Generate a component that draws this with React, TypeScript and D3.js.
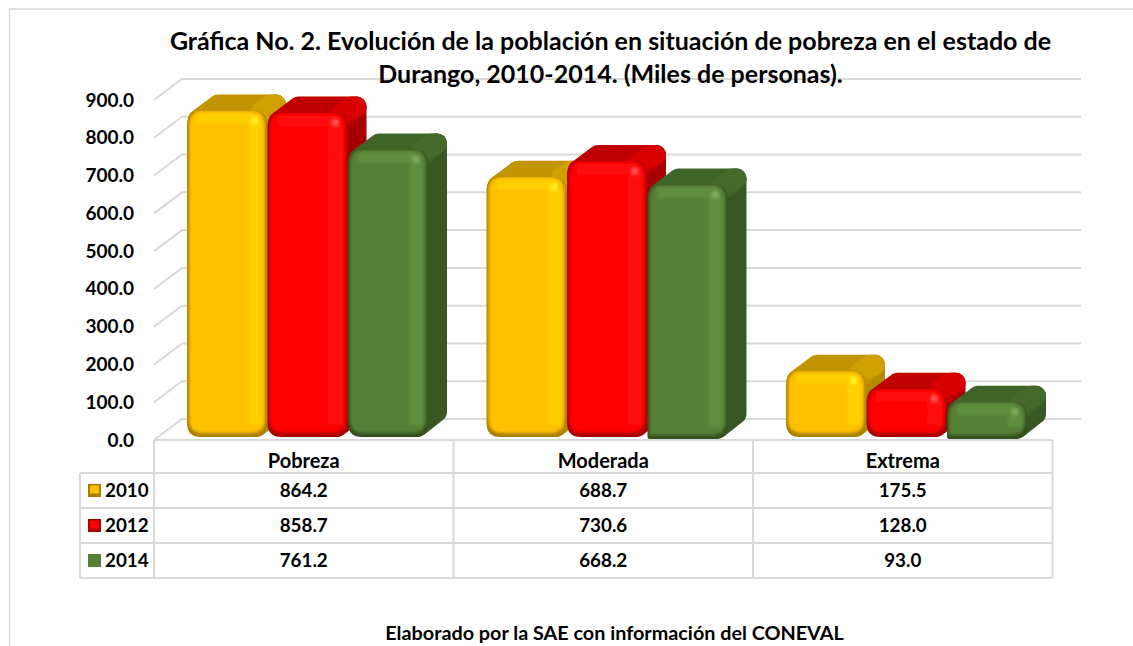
import React from "react";
import * as d3 from "d3";

const categories = ["Pobreza", "Moderada", "Extrema"];
const years = ["2010", "2012", "2014"];
const values2010 = [864.2, 688.7, 175.5];
const values2012 = [858.7, 730.6, 128.0];
const values2014 = [761.2, 668.2, 93.0];
const seriesValues = [values2010, values2012, values2014];
const yTicks = [0, 100, 200, 300, 400, 500, 600, 700, 800, 900];
const titleLines = [
  "Gráfica No. 2. Evolución de la población en situación de pobreza en el estado de",
  "Durango, 2010-2014. (Miles de personas).",
];
const footer = "Elaborado por la SAE con información del CONEVAL";
const palette = [
  { base: "#FFC000", light: "#FFCF00", spec: "#FFF020", edge: "#A88000", top: "#C29400", topLight: "#D0A000", side: "#B48A00" },
  { base: "#FF0000", light: "#FF1010", spec: "#FF5050", edge: "#A80000", top: "#C00000", topLight: "#D80000", side: "#A80000" },
  { base: "#568035", light: "#5E8F3C", spec: "#7DAA5C", edge: "#33501F", top: "#3F6428", topLight: "#44692B", side: "#385723" },
];

const FONT = "Lato, 'Open Sans', sans-serif";
const GRID = "#D9D9D9";
const DX = 28;
const DY = 21;
const y = d3.scaleLinear().domain([0, 900]).range([440, 100]);
const x = d3.scaleBand().domain(categories).range([154, 1052.5]);
const barWidth = 80.5;
const barInset = 33;
const tableYs = [440, 473, 508, 543, 578];

function Bar({ cat, si, value }: { cat: string; si: number; value: number }) {
  const c = palette[si];
  const x0 = (x(cat) as number) + barInset + si * barWidth;
  const x1 = x0 + barWidth - 0.5;
  const yTop = y(value) - 3;
  const yBot = y(0) - 3;
  const r = 14;
  const dx = 19;
  const dy = 16;
  const s = 10;
  // flat-bottom for the green bars of the 2nd and 3rd groups, as in the source
  const flat = si === 2 && cat !== categories[0];
  const bottom = flat ? yBot + 2 : yBot;
  const a = yTop - dy + s;
  const topPts = `${x0 + 11},${yTop + 9} ${x0 + 31},${a} ${x1 + dx - s},${a} ${x1 - s},${yTop + s}`;
  const sidePts = `${x1 - s},${yTop + s} ${x1 + dx - s},${a} ${x1 + dx - s},${Math.max(bottom - dy - 9, a)} ${x1 - s},${bottom - s}`;
  const wedgePts = `${x1 - 6},${a + 7} ${x1 + 4},${a} ${x1 + dx - s},${a}`;
  const lr = flat ? 2 : r;
  const facePath = `M${x0},${bottom - lr}V${yTop + r}Q${x0},${yTop} ${x0 + r},${yTop}H${x1 - r}Q${x1},${yTop} ${x1},${yTop + r}V${bottom - r}Q${x1},${bottom} ${x1 - r},${bottom}H${x0 + lr}Q${x0},${bottom} ${x0},${bottom - lr}Z`;
  return (
    <g>
      <polygon points={sidePts} fill={c.side} stroke={c.side} strokeWidth={s * 2} strokeLinejoin="round" />
      <polygon points={topPts} fill={c.top} stroke={c.top} strokeWidth={s * 2} strokeLinejoin="round" />
      <polygon points={wedgePts} fill={c.topLight} stroke={c.topLight} strokeWidth={s * 2} strokeLinejoin="round" />
      <path d={facePath} fill={c.edge} />
      <path d={facePath} fill={c.base} filter="url(#bevel)" />
      <rect x={x1 - 19} y={yTop + 12} width={14} height={Math.max(bottom - yTop - 24, 1)} fill={c.light} filter="url(#soft)" />
      <rect x={x0 + 10} y={yTop + 3} width={barWidth - 22} height={10} fill={c.light} filter="url(#soft)" />
      <circle cx={x1 - 12} cy={yTop + 10} r={4} fill={c.spec} filter="url(#soft)" />
    </g>
  );
}

export default function App() {
  return (
    <svg
      width={1133}
      height={646}
      style={{ position: "absolute", left: 0, top: 0, background: "#fff" }}
      fontFamily={FONT}
      fontWeight={700}
    >
      <defs>
        <filter id="bevel" x="-10%" y="-10%" width="120%" height="120%">
          <feOffset dy="-2" />
          <feMorphology operator="erode" radius="2" />
          <feGaussianBlur stdDeviation="1.8" />
          <feComposite in2="SourceGraphic" operator="in" />
        </filter>
        <filter id="soft" x="-40%" y="-40%" width="180%" height="180%">
          <feGaussianBlur stdDeviation="1.5" />
        </filter>
      </defs>

      {/* outer frame */}
      <path d="M9.5,646V9H1133" fill="none" stroke={GRID} strokeWidth={1.5} />

      {/* walls */}
      <g stroke={GRID} strokeWidth={2} fill="none">
        {yTicks.map((t) => (
          <path key={t} d={`M${x.range()[0]},${y(t)}L${x.range()[0] + DX},${y(t) - DY}H1081`} />
        ))}
      </g>

      {/* y axis labels */}
      <g fontSize={19} fill="#000" textAnchor="end">
        {yTicks.map((t) => (
          <text key={t} x={134} y={y(t) + 6.5}>
            {d3.format(".1f")(t)}
          </text>
        ))}
      </g>

      {/* bars: painted group by group, 2010 to 2014 */}
      {categories.map((cat, ci) => (
        <g key={cat}>
          {years.map((yr, si) => (
            <Bar key={yr} cat={cat} si={si} value={seriesValues[si][ci]} />
          ))}
        </g>
      ))}

      {/* data table */}
      <g stroke={GRID} strokeWidth={2} fill="none">
        <path d={`M154,${tableYs[0]}H1052.5`} />
        {tableYs.slice(1).map((ty) => (
          <path key={ty} d={`M80,${ty}H1052.5`} />
        ))}
        <path d={`M80,${tableYs[1]}V${tableYs[4]}`} />
        {x.domain().map((c) => (
          <path key={c} d={`M${x(c)},${tableYs[0]}V${tableYs[4]}`} />
        ))}
        <path d={`M1052.5,${tableYs[0]}V${tableYs[4]}`} />
      </g>

      <g fill="#000" textAnchor="middle">
        {categories.map((c, ci) => {
          const cx = (x(c) as number) + x.bandwidth() / 2;
          return (
            <g key={c}>
              <text x={cx} y={467.5} fontSize={20}>{c}</text>
              {years.map((yr, si) => (
                <text key={yr} x={cx} y={(tableYs[si + 1] + tableYs[si + 2]) / 2 + 6} fontSize={18.8}>
                  {d3.format(".1f")(seriesValues[si][ci])}
                </text>
              ))}
            </g>
          );
        })}
      </g>

      {/* legend keys */}
      {years.map((yr, si) => {
        const my = (tableYs[si + 1] + tableYs[si + 2]) / 2;
        const c = palette[si];
        return (
          <g key={yr}>
            <rect x={88} y={my - 6.5} width={13} height={13} fill={si === 2 ? c.base : c.edge} />
            {si !== 2 && <rect x={90} y={my - 5} width={9} height={8} fill={c.base} />}
            <text x={105} y={my + 6} fontSize={18.8} fill="#000">{yr}</text>
          </g>
        );
      })}

      {/* title */}
      <g fontSize={25} fill="#000" textAnchor="middle">
        {titleLines.map((l, i) => (
          <text key={i} x={610.5} y={50 + i * 33}>{l}</text>
        ))}
      </g>

      <text x={614.5} y={640} fontSize={19.8} fill="#000" textAnchor="middle">{footer}</text>
    </svg>
  );
}
